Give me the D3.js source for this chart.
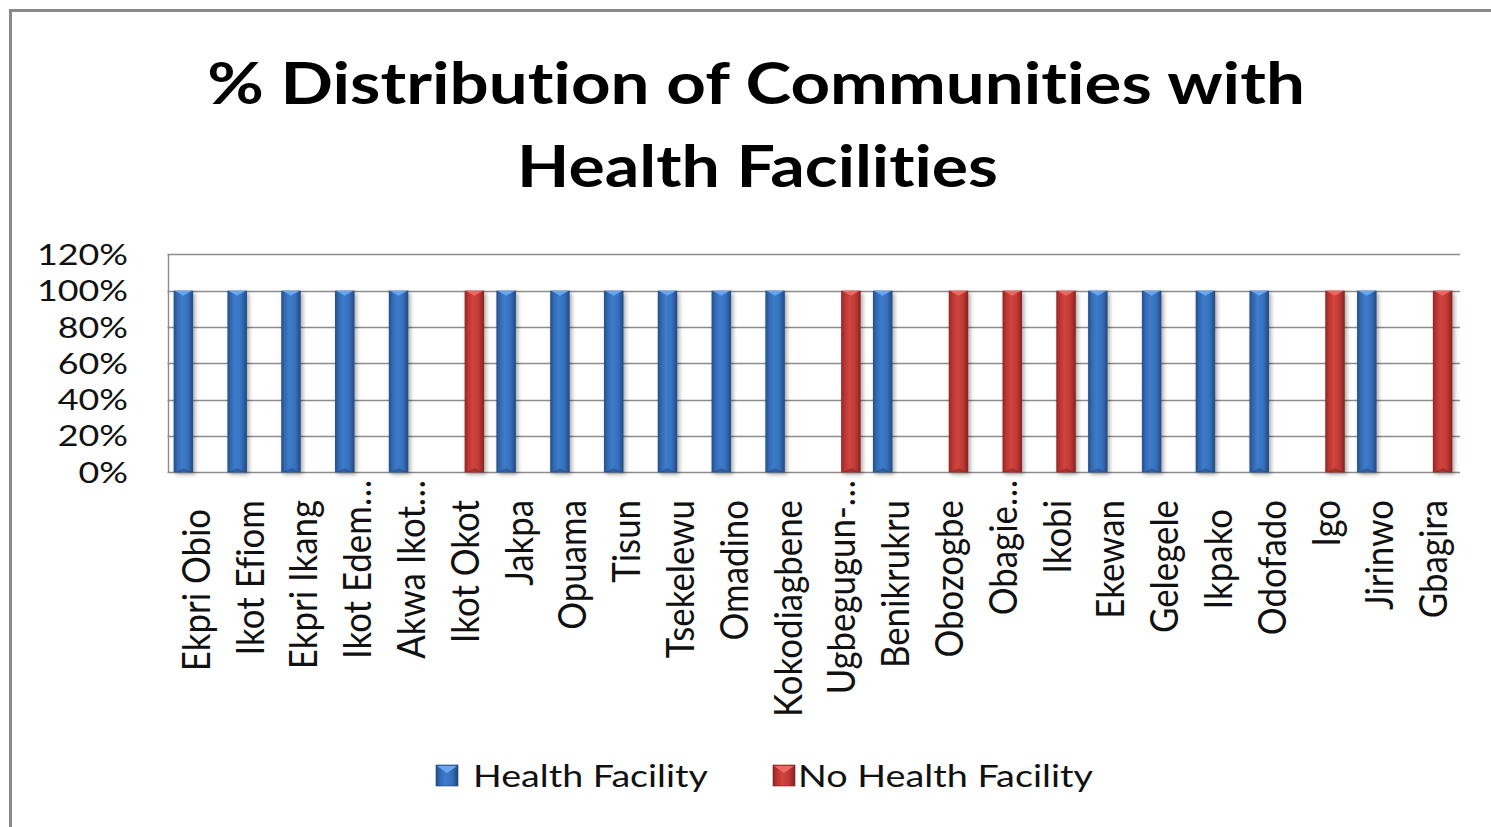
<!DOCTYPE html>
<html>
<head>
<meta charset="utf-8">
<script src="https://cdn.jsdelivr.net/npm/d3@7"></script>
<style>
  html, body { margin: 0; padding: 0; background: #fff; }
  svg { display: block; }
  text { font-family: Lato, "Open Sans", sans-serif; white-space: pre;
         font-variant-ligatures: none;
         font-feature-settings: "liga" 0, "clig" 0, "dlig" 0, "calt" 0;
         letter-spacing: 0.01px; }
</style>
</head>
<body>
<svg id="chart" width="1491" height="827"></svg>
<script>
// ---------------- data ----------------
const titleLines = ["% Distribution of Communities with", "Health Facilities"];
const categories = ["Ekpri Obio ", "Ikot Efiom", "Ekpri Ikang", "Ikot Edem…", "Akwa Ikot…", "Ikot Okot",
  "Jakpa", "Opuama", "Tisun", "Tsekelewu", "Omadino", "Kokodiagbene", "Ugbegugun-…", "Benikrukru",
  "Obozogbe", "Obagie…", "Ikobi", "Ekewan", "Gelegele", "Ikpako ", "Odofado", "Igo", "Jirinwo", "Gbagira"];
const seriesNames = ["Health Facility", "No Health Facility"];
const healthFacility   = [1,1,1,1,1,0,1,1,1,1,1,1,0,1,0,0,0,1,1,1,1,0,1,0];
const noHealthFacility = [0,0,0,0,0,1,0,0,0,0,0,0,1,0,1,1,1,0,0,0,0,1,0,1];
const yTicks = [0, 0.2, 0.4, 0.6, 0.8, 1.0, 1.2];
const yTickLabels = ["0%", "20%", "40%", "60%", "80%", "100%", "120%"];

// ---------------- layout ----------------
const svg = d3.select("#chart");
const plot = { left: 167.5, right: 1458.5, top: 254.4, bottom: 472.3 };
const palette = {
  "Health Facility":    { stops: ["#234e88", "#3369b0", "#3d7bcb", "#3670bd", "#22497f"], cap: "#6aa8ec", dark: "#1f4375" },
  "No Health Facility": { stops: ["#8f2724", "#b93632", "#d2443f", "#c03a35", "#862220"], cap: "#ec6a64", dark: "#7a1f1d" }
};

const x = d3.scaleBand().domain(categories).range([plot.left, plot.right]).padding(0);
const xs = d3.scaleBand().domain(seriesNames).range([0, x.bandwidth()]).paddingInner(0).paddingOuter(0.2225);
const y = d3.scaleLinear().domain([0, 1.2]).range([plot.bottom, plot.top]);
const barW = 19.5;

const defs = svg.append("defs");
seriesNames.forEach((s, i) => {
  const g = defs.append("linearGradient").attr("id", "grad" + i).attr("x1", "0").attr("x2", "1").attr("y1", "0").attr("y2", "0");
  const offs = [0, 0.18, 0.42, 0.72, 1];
  palette[s].stops.forEach((c, k) => g.append("stop").attr("offset", offs[k]).attr("stop-color", c));
});
const f = defs.append("filter").attr("id", "shadow").attr("x", "-50%").attr("y", "-10%").attr("width", "200%").attr("height", "120%");
f.append("feGaussianBlur").attr("in", "SourceAlpha").attr("stdDeviation", 2.2).attr("result", "b");
f.append("feOffset").attr("in", "b").attr("dx", 1.5).attr("dy", 2).attr("result", "o");
f.append("feComponentTransfer").attr("in", "o").attr("result", "o2")
  .append("feFuncA").attr("type", "linear").attr("slope", 0.35);
const fm = f.append("feMerge");
fm.append("feMergeNode").attr("in", "o2");
fm.append("feMergeNode").attr("in", "SourceGraphic");

// outer frame
svg.append("path").attr("d", "M10.5,835 L10.5,10.5 L1500,10.5")
  .attr("fill", "none").attr("stroke", "#8a8a8a").attr("stroke-width", 3);

// gridlines
svg.append("g").selectAll("line").data(yTicks).join("line")
  .attr("x1", plot.left).attr("x2", plot.right + 1.5)
  .attr("y1", d => Math.round(y(d)) + 0.5).attr("y2", d => Math.round(y(d)) + 0.5)
  .attr("stroke", "#8c8c8c").attr("stroke-width", 1.4);
svg.append("line").attr("x1", 168.5).attr("x2", 168.5).attr("y1", y(1.2)).attr("y2", y(0))
  .attr("stroke", "#8c8c8c").attr("stroke-width", 1.4);

// bars
const rows = [];
categories.forEach((c, i) => {
  rows.push({ cat: c, s: seriesNames[0], v: healthFacility[i] });
  rows.push({ cat: c, s: seriesNames[1], v: noHealthFacility[i] });
});
const barG = svg.append("g");
rows.filter(d => d.v > 0).forEach(d => {
  const si = seriesNames.indexOf(d.s);
  const x0 = x(d.cat) + xs(d.s) + (xs.bandwidth() - barW) / 2;
  const yt = y(d.v), yb = y(0);
  const g = barG.append("g");
  g.append("rect").attr("x", x0).attr("y", yt).attr("width", barW).attr("height", yb - yt)
    .attr("fill", `url(#grad${si})`).attr("filter", "url(#shadow)");
  g.append("path")
    .attr("d", `M${x0 + 1},${yt} L${x0 + barW - 1},${yt} L${x0 + barW / 2},${yt + 5} Z`)
    .attr("fill", palette[d.s].cap).attr("opacity", 0.95);
  g.append("path")
    .attr("d", `M${x0 + 1},${yb} L${x0 + barW - 1},${yb} L${x0 + barW / 2},${yb - 4} Z`)
    .attr("fill", palette[d.s].dark).attr("opacity", 0.5);
});

// helper: stretch text horizontally to a target width
function fitWidth(node, target) {
  const w = node.getComputedTextLength();
  return target / w;
}

// title
const titleSpecs = [
  { cx: 756, base: 104, w: 1098 },
  { cx: 757.5, base: 187, w: 481 }
];
titleLines.forEach((t, i) => {
  const sp = titleSpecs[i];
  const el = svg.append("text").text(t).attr("font-size", 58).attr("font-weight", 700)
    .attr("fill", "#000").attr("text-anchor", "middle");
  const sx = fitWidth(el.node(), sp.w);
  el.attr("transform", `translate(${sp.cx},${sp.base}) scale(${sx},1)`);
});

// y tick labels
const tickFont = 29.3;
const probe = svg.append("text").text("120%").attr("font-size", tickFont);
const tickSx = fitWidth(probe.node(), 91);
probe.remove();
svg.append("g").selectAll("text").data(yTicks).join("text")
  .text((d, i) => yTickLabels[i])
  .attr("font-size", tickFont).attr("fill", "#111").attr("text-anchor", "end")
  .attr("transform", d => `translate(128,${y(d) + 10.5}) scale(${tickSx},1)`);

// x labels
const probe2 = svg.append("text").text("Kokodiagbene").attr("font-size", 30);
const xFont = 30 * 217 / probe2.node().getComputedTextLength();
probe2.remove();
const xSx = 28 / (0.7165 * xFont);
svg.append("g").selectAll("text").data(categories).join("text")
  .text(d => d)
  .attr("font-size", xFont).attr("fill", "#111").attr("text-anchor", "end")
  .attr("transform", d => {
    const cx = x(d) + x.bandwidth() / 2 + 15.5;
    const top = d.endsWith("…") ? 480 : 500;
    return `translate(${cx},${top}) scale(${xSx},1) rotate(-90)`;
  });

// legend
const legendSpecs = [
  { sq: 436, tx: 473, w: 235 },
  { sq: 773, tx: 798, w: 295 }
];
seriesNames.forEach((s, i) => {
  const sp = legendSpecs[i];
  const lg = svg.append("g");
  lg.append("rect").attr("x", sp.sq).attr("y", 765).attr("width", 22).attr("height", 21)
    .attr("fill", `url(#grad${i})`).attr("stroke", palette[s].dark).attr("stroke-width", 0.6);
  lg.append("path").attr("d", `M${sp.sq + 1},766 L${sp.sq + 21},766 L${sp.sq + 11},773 Z`)
    .attr("fill", palette[s].cap);
  const el = lg.append("text").text(s).attr("font-size", 30.7).attr("fill", "#111");
  const sx = fitWidth(el.node(), sp.w);
  el.attr("transform", `translate(${sp.tx},787) scale(${sx},1)`);
});
</script>
</body>
</html>
